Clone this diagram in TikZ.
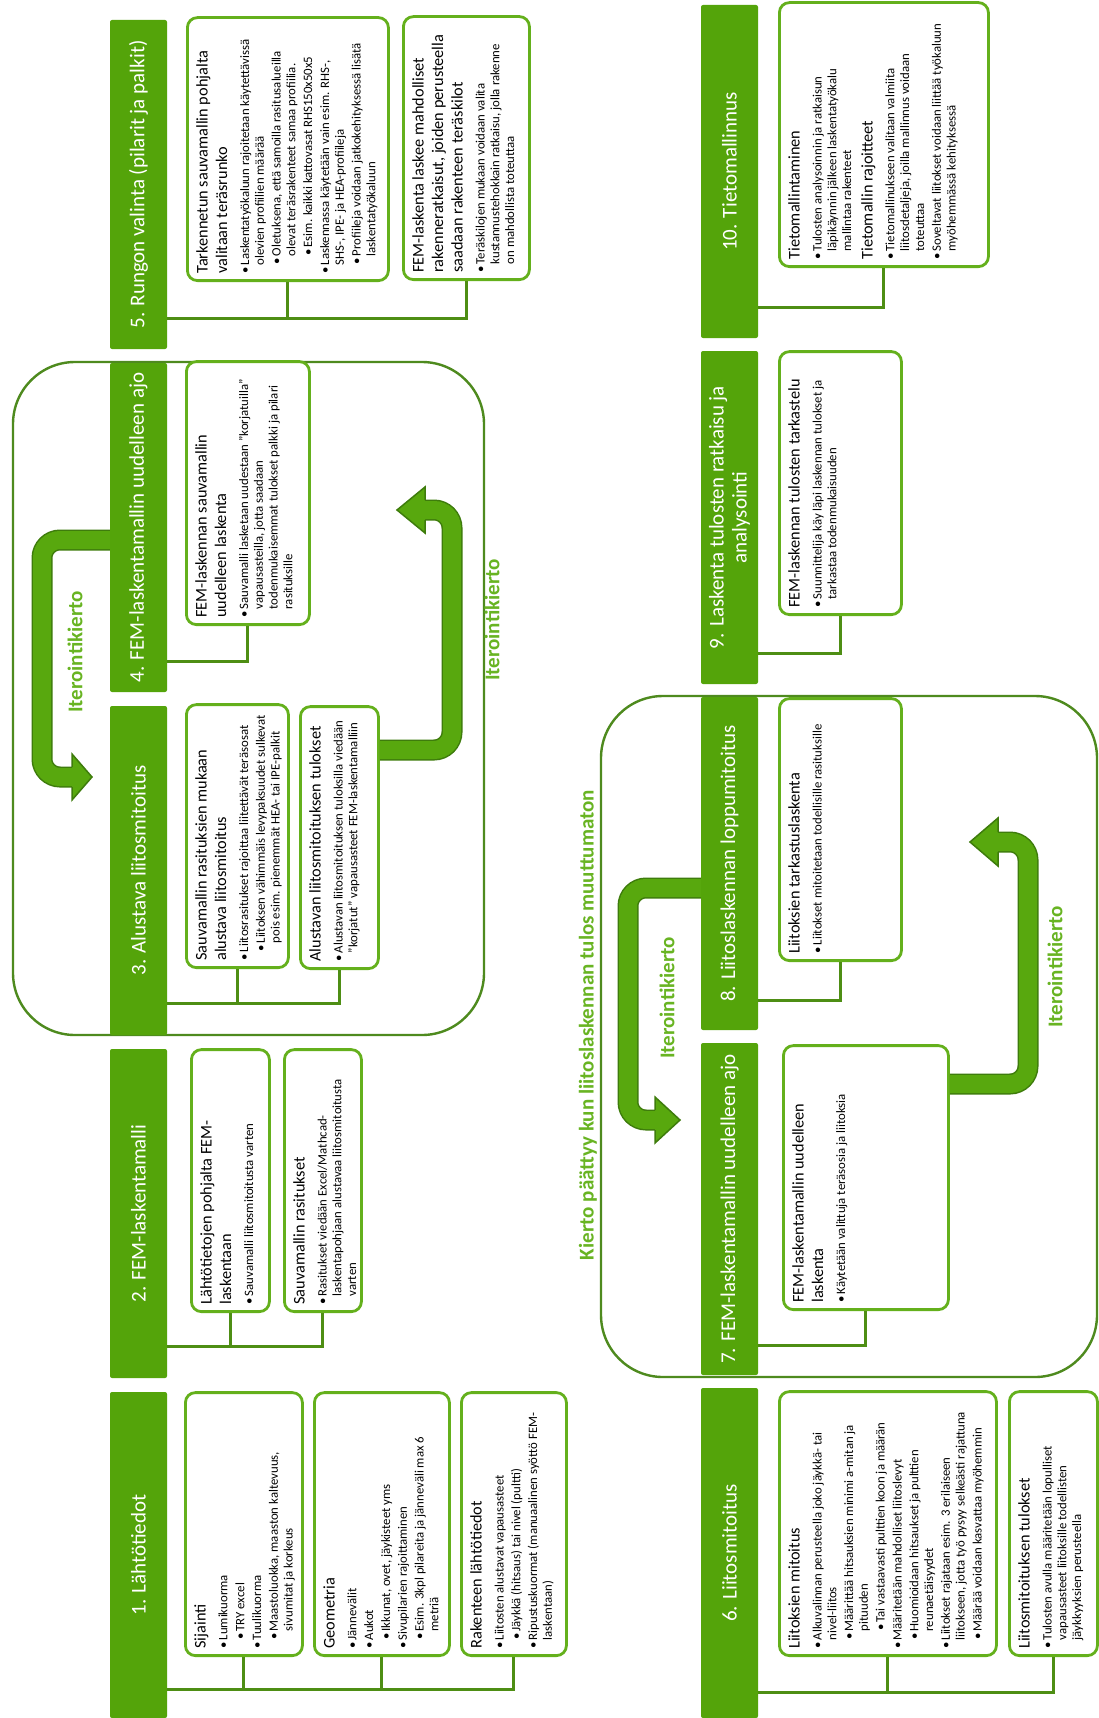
\documentclass[tikz,border=0pt]{standalone}
\usepackage{fontspec}
\setmainfont{Carlito}
\usepackage{xcolor}
\usetikzlibrary{arrows.meta,positioning,fit,calc}

\definecolor{bargreen}{RGB}{84,164,10}
\definecolor{cardline}{RGB}{100,176,28}
\definecolor{linkgreen}{RGB}{78,142,20}
\definecolor{framegreen}{RGB}{78,138,30}
\definecolor{arrowgreen}{RGB}{88,168,14}
\definecolor{arrowedge}{RGB}{62,124,12}
\definecolor{labelgreen}{RGB}{104,180,34}

% text inside the cards
\newcommand{\cardbody}{\fontsize{12.8pt}{14.8pt}\selectfont\raggedright\setlength{\parskip}{2pt}}
\newcommand{\cardhead}[1]{\par\noindent{\fontsize{16.3pt}{19.5pt}\selectfont #1\par}\vspace{5pt}}
\newcommand{\pti}[1]{\par\hangindent=0.65em\hangafter=1\noindent\makebox[0.65em][l]{\textbullet}#1}
\newcommand{\ptii}[1]{\par\hangindent=1.35em\hangafter=1\noindent\hspace*{0.7em}\makebox[0.65em][l]{\textbullet}#1}
\newcommand{\ptiii}[1]{\par\hangindent=2.05em\hangafter=1\noindent\hspace*{1.4em}\makebox[0.65em][l]{\textbullet}#1}

\begin{document}
\begin{tikzpicture}[
  x=1pt, y=-1pt,
  bar/.style={fill=bargreen, text=white, rotate=90, minimum height=57pt, inner sep=0pt, align=center, rounded corners=2pt, font=\fontsize{21pt}{23pt}\selectfont},
  card/.style={draw=cardline, line width=2.8pt, rounded corners=10pt, fill=white, rotate=90, anchor=north west, inner xsep=7pt, inner ysep=9pt},
  link/.style={draw=linkgreen, line width=3pt},
  loopframe/.style={draw=framegreen, line width=2.4pt, rounded corners=62pt, inner sep=0pt},
  iterband/.style={draw=arrowedge, line width=1.5pt, double=arrowgreen, double distance=18pt, rounded corners=18pt},
  iterhead/.style={draw=arrowedge, line width=1.5pt, line join=miter},
  iterlabel/.style={text=labelgreen, rotate=90, font=\bfseries\fontsize{21pt}{25pt}\selectfont}
]
\fill[white, use as bounding box] (0,0) rectangle (1099,1718);

% iteration frames
\node[loopframe, fit={(13,362) (484,1035)}] (loopA) {};
\node[loopframe, fit={(601,696) (1097,1377)}] (loopB) {};

% phase bars
\node[bar, minimum width=326pt] (bar1) at (138.5,1555) {1. Lähtötiedot};
\node[bar, minimum width=329pt] (bar2) at (138.5,1213.5) {2. FEM-laskentamalli};
\node[bar, minimum width=329pt] (bar3) at (138.5,870.5) {3. Alustava liitosmitoitus};
\node[bar, minimum width=329pt] (bar4) at (138.5,527.5) {4. FEM-laskentamallin uudelleen ajo};
\node[bar, minimum width=329pt] (bar5) at (138.5,184.5) {5. Rungon valinta (pilarit ja palkit)};
\node[bar, minimum width=330pt] (bar6) at (729.5,1553) {6. Liitosmitoitus};
\node[bar, minimum width=332pt] (bar7) at (729.5,1209) {7. FEM-laskentamallin uudelleen ajo};
\node[bar, minimum width=333pt] (bar8) at (729.5,863.5) {8. Liitoslaskennan loppumitoitus};
\node[bar, minimum width=333pt] (bar9) at (729.5,517.5) {9. Laskenta tulosten ratkaisu ja\\analysointi};
\node[bar, minimum width=333pt] (bar10) at (729.5,171.5) {10. Tietomallinnus};

% cards, phase 1
\node[card] (c1a) at (184,1657) {\parbox[t][99pt][t]{249pt}{\cardbody
  \cardhead{Sijainti}
  \pti{Lumikuorma}
  \ptii{TRY excel}
  \pti{Tuulikuorma}
  \ptii{Maastoluokka, maaston kaltevuus,\newline sivumitat ja korkeus}}};
\node[card] (c1b) at (313,1657) {\parbox[t][117pt][t]{249pt}{\cardbody
  \cardhead{Geometria}
  \pti{Jännevälit}
  \pti{Aukot}
  \ptii{Ikkunat, ovet, jäykisteet yms}
  \pti{Sivupilarien rajoittaminen}
  \ptii{Esim. 3kpl pilareita ja jänneväli max 6\newline metriä}}};
\node[card] (c1c) at (460,1657) {\parbox[t][87pt][t]{249pt}{\cardbody
  \cardhead{Rakenteen lähtötiedot}
  \pti{Liitosten alustavat vapausasteet}
  \ptii{Jäykkä (hitsaus) tai nivel (pultti)}
  \pti{Ripustuskuormat (manuaalinen syöttö FEM-\newline laskentaan)}}};

% cards, phase 2
\node[card] (c2a) at (190,1313) {\parbox[t][60pt][t]{248pt}{\cardbody
  \cardhead{Lähtötietojen pohjalta FEM-\newline laskentaan}
  \pti{Sauvamalli liitosmitoitusta varten}}};
\node[card] (c2b) at (283,1313) {\parbox[t][59pt][t]{248pt}{\cardbody
  \cardhead{Sauvamallin rasitukset}
  \pti{Rasitukset viedään Excel/Mathcad-\newline laskentapohjaan alustavaa liitosmitoitusta\newline varten}}};

% cards, phase 3
\node[card] (c3a) at (185,969) {\parbox[t][84pt][t]{249pt}{\cardbody
  \cardhead{Sauvamallin rasituksien mukaan\newline alustava liitosmitoitus}
  \pti{Liitosrasitukset rajoittaa liitettävät teräsosat}
  \ptii{Liitoksen vähimmäis levypaksuudet sulkevat\newline pois esim. pienemmät HEA- tai IPE-palkit}}};
\node[card] (c3b) at (299,970) {\parbox[t][60pt][t]{248pt}{\cardbody
  \cardhead{Alustavan liitosmitoituksen tulokset}
  \pti{Alustavan liitosmitoituksen tuloksilla viedään\newline ”korjatut” vapausasteet FEM-laskentamalliin}}};

% cards, phase 4
\node[card] (c4a) at (185,626) {\parbox[t][105pt][t]{249pt}{\cardbody
  \cardhead{FEM-laskennan sauvamallin\newline uudelleen laskenta}
  \pti{Sauvamalli lasketaan uudestaan ”korjatuilla”\newline vapausasteilla, jotta saadaan\newline todenmukaisemmat tulokset palkki ja pilari\newline rasituksille}}};

% cards, phase 5
\node[card] (c5a) at (186,282) {\parbox[t][183pt][t]{249pt}{\cardbody
  \cardhead{Tarkennetun sauvamallin pohjalta\newline valitaan teräsrunko}
  \pti{Laskentatyökaluun rajoitetaan käytettävissä\newline olevien profiilien määrää}
  \ptii{Oletuksena, että samoilla rasitusalueilla\newline olevat teräsrakenteet samaa profiilia.}
  \ptiii{Esim. kaikki kattovasat RHS150x50x5}
  \pti{Laskennassa käytetään vain esim. RHS-,\newline SHS-, IPE- ja HEA-profiileja}
  \ptii{Profiileja voidaan jatkokehityksessä lisätä\newline laskentatyökaluun}}};
\node[card] (c5b) at (402,281) {\parbox[t][108pt][t]{249pt}{\cardbody
  \cardhead{FEM-laskenta laskee mahdolliset\newline rakenneratkaisut, joiden perusteella\newline saadaan rakenteen teräskilot}
  \pti{Teräskilojen mukaan voidaan valita\newline kustannustehokkain ratkaisu, jolla rakenne\newline on mahdollista toteuttaa}}};

% cards, phase 6
\node[card] (c6a) at (778,1657) {\parbox[t][199pt][t]{250pt}{\cardbody
  \cardhead{Liitoksien mitoitus}
  \pti{Alkuvalinnan perusteella joko jäykkä- tai\newline nivel-liitos}
  \ptii{Määrittää hitsauksien minimi a-mitan ja\newline pituuden}
  \ptiii{Tai vastaavasti pulttien koon ja määrän}
  \pti{Määritetään mahdolliset liitoslevyt}
  \ptii{Huomioidaan hitsaukset ja pulttien\newline reunaetäisyydet}
  \pti{Liitokset rajataan esim. 3 erilaiseen\newline liitokseen, jotta työ pysyy selkeästi rajattuna}
  \ptii{Määrää voidaan kasvattaa myöhemmin}}};
\node[card] (c6b) at (1008,1657) {\parbox[t][70pt][t]{250pt}{\cardbody
  \cardhead{Liitosmitoituksen tulokset}
  \pti{Tulosten avulla määritetään lopulliset\newline vapausasteet liitoksille todellisten\newline jäykkyyksien perusteella}}};

% cards, phases 7-10
\node[card] (c7a) at (782,1311) {\parbox[t][147pt][t]{250pt}{\cardbody
  \cardhead{FEM-laskentamallin uudelleen\newline laskenta}
  \pti{Käytetään valittuja teräsosia ja liitoksia}}};
\node[card] (c8a) at (778,962) {\parbox[t][104pt][t]{248pt}{\cardbody
  \cardhead{Liitoksien tarkastuslaskenta}
  \pti{Liitokset mitoitetaan todellisille rasituksille}}};
\node[card] (c9a) at (778,616) {\parbox[t][104pt][t]{249pt}{\cardbody
  \cardhead{FEM-laskennan tulosten tarkastelu}
  \pti{Suunnittelija käy läpi laskennan tulokset ja\newline tarkastaa todenmukaisuuden}}};
\node[card] (c10a) at (778,268) {\parbox[t][191pt][t]{250pt}{\cardbody
  \cardhead{Tietomallintaminen}
  \pti{Tulosten analysoinnin ja ratkaisun\newline läpikäynnin jälkeen laskentatyökalu\newline mallintaa rakenteet}
  \cardhead{Tietomallin rajoitteet}
  \pti{Tietomallinukseen valitaan valmiita\newline liitosdetaljeja, joilla mallinnus voidaan\newline toteuttaa}
  \pti{Soveltavat liitokset voidaan liittää työkaluun\newline myöhemmässä kehityksessä}}};

% brackets from bars to cards
\coordinate (j1) at (bar1.south |- 0,1689);
\coordinate (j2) at (bar2.south |- 0,1346);
\coordinate (j3) at (bar3.south |- 0,1003);
\coordinate (j4) at (bar4.south |- 0,661);
\coordinate (j5) at (bar5.south |- 0,318);
\coordinate (j6) at (bar6.south |- 0,1692);
\coordinate (j7) at (bar7.south |- 0,1345);
\coordinate (j8) at (bar8.south |- 0,1000);
\coordinate (j9) at (bar9.south |- 0,653);
\coordinate (j10) at (bar10.south |- 0,307);
\foreach \c in {c1a,c1b,c1c} \draw[link] (\c.west) |- (j1);
\foreach \c in {c2a,c2b} \draw[link] (\c.west) |- (j2);
\foreach \c in {c3a,c3b} \draw[link] (\c.west) |- (j3);
\draw[link] (c4a.west) |- (j4);
\foreach \c in {c5a,c5b} \draw[link] (\c.west) |- (j5);
\foreach \c in {c6a,c6b} \draw[link] (\c.west) |- (j6);
\draw[link] (c7a.west) |- (j7);
\draw[link] (c8a.west) |- (j8);
\draw[link] (c9a.west) |- (j9);
\draw[link] (c10a.west) |- (j10);

% iteration arrows
\draw[iterband] (bar4.north |- 0,540) -- (42,540) -- (42,777) -- (72,777);
\fill[arrowgreen] (72,754) -- (92,777) -- (72,800) -- cycle;
\draw[iterhead] (72,767) -- (72,754) -- (92,777) -- (72,800) -- (72,787);

\draw[iterband] (c3b.south |- 0,750) -- (452,750) -- (452,510) -- (425,510);
\fill[arrowgreen] (425,487) -- (397,510) -- (425,533) -- cycle;
\draw[iterhead] (425,500) -- (425,487) -- (397,510) -- (425,533) -- (425,520);

\draw[iterband] (bar8.north |- 0,888) -- (628,888) -- (628,1120) -- (655,1120);
\fill[arrowgreen] (655,1097) -- (680,1120) -- (655,1143) -- cycle;
\draw[iterhead] (655,1110) -- (655,1097) -- (680,1120) -- (655,1143) -- (655,1130);

\draw[iterband] (c7a.south |- 0,1084) -- (1028,1084) -- (1028,842) -- (998,842);
\fill[arrowgreen] (998,818) -- (970,842) -- (998,866) -- cycle;
\draw[iterhead] (998,832) -- (998,818) -- (970,842) -- (998,866) -- (998,852);

% labels
\node[iterlabel] (itA) at (75,652) {Iterointikierto};
\node[iterlabel] (itB) at (492,620) {Iterointikierto};
\node[iterlabel] (itC) at (667,998) {Iterointikierto};
\node[iterlabel] (itD) at (1055,967) {Iterointikierto};
\node[iterlabel] (stop) at (588,1025) {Kierto päättyy kun liitoslaskennan tulos muuttumaton};
\end{tikzpicture}
\end{document}
